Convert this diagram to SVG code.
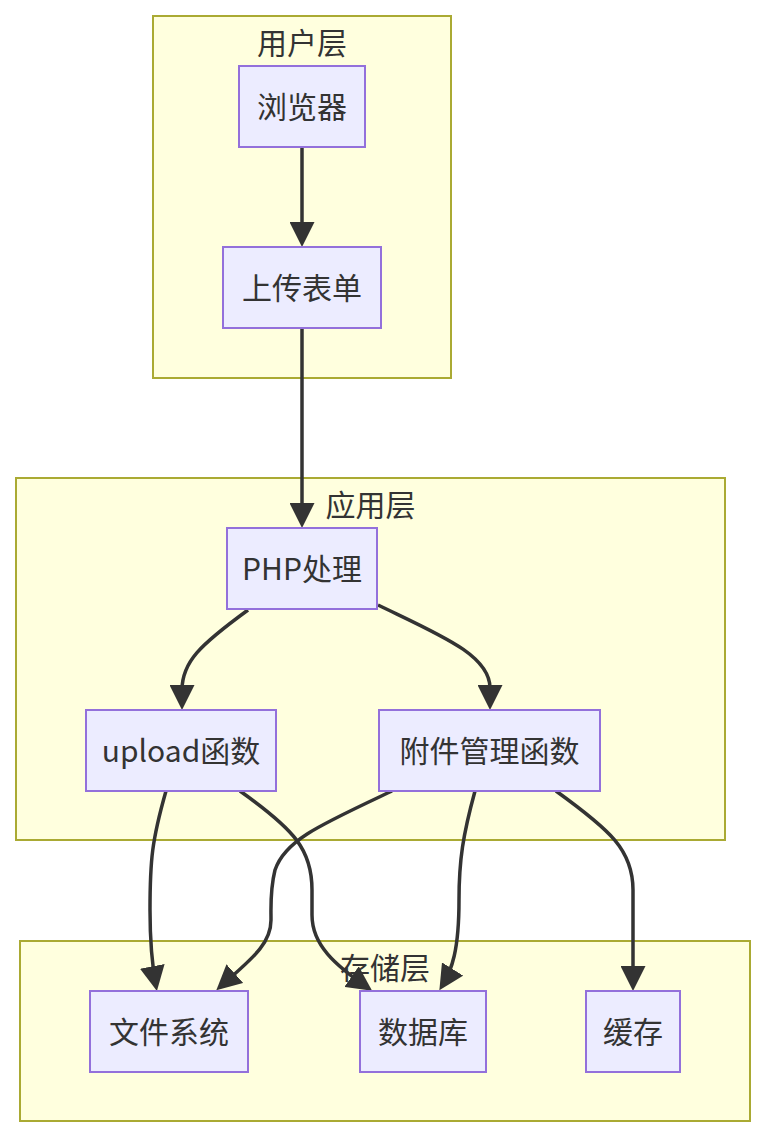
<svg xmlns="http://www.w3.org/2000/svg" width="766" height="1137" viewBox="0 0 766 1137">
<style>
.cluster rect{fill:#ffffde;stroke:#aaaa33;stroke-width:2}
.node rect{fill:#ececff;stroke:#9370db;stroke-width:2}
text{font-family:"Noto Sans CJK SC","Noto Sans",sans-serif;font-size:30px;fill:#333333;text-anchor:middle}
.edge{fill:none;stroke:#333333;stroke-width:3.5;marker-end:url(#arrow)}
</style>
<defs>
<marker id="arrow" viewBox="0 0 10 10" refX="8" refY="5" markerWidth="25" markerHeight="25" markerUnits="userSpaceOnUse" orient="auto">
<path d="M0,0 L10,5 L0,10 z" fill="#333333"/>
</marker>
</defs>
<g id="clusters">
<g id="cluster-user" class="cluster"><rect x="153" y="16" width="298" height="362"/><text x="302" y="54">用户层</text></g>
<g id="cluster-app" class="cluster"><rect x="16" y="478" width="709" height="362"/><text x="370.5" y="516">应用层</text></g>
<g id="cluster-storage" class="cluster"><rect x="20" y="941" width="730" height="180"/><text x="385" y="979">存储层</text></g>
</g>
<g id="edges">
<path class="edge" d="M302,147 L302,242"/>
<path class="edge" d="M302,328 L302,523"/>
<path class="edge" d="M248,610 C200,645 182,662 182,690 L182,705"/>
<path class="edge" d="M378,605 C440,635 490,655 490,688 L490,705"/>
<path class="edge" d="M166,791 C152,840 150,860 150,910 C150,950 153,970 156,986"/>
<path class="edge" d="M240,791 C295,830 312,850 312,890 L312,915 C312,945 335,965 368,988"/>
<path class="edge" d="M392,791 C320,825 285,840 275,870 C270,890 271,905 271,920 C271,945 250,960 220,987"/>
<path class="edge" d="M475,791 C463,835 459,860 459,900 C459,950 452,970 442,986"/>
<path class="edge" d="M556,791 C610,830 633,850 633,890 L633,986"/>
</g>
<g id="node-browser" class="node"><rect x="239" y="66" width="126" height="81"/><text x="302" y="118">浏览器</text></g>
<g id="node-form" class="node"><rect x="223" y="247" width="158" height="81"/><text x="302" y="299">上传表单</text></g>
<g id="node-php" class="node"><rect x="227" y="528" width="150" height="81"/><text x="302" y="580">PHP处理</text></g>
<g id="node-upload" class="node"><rect x="86" y="710" width="190" height="81"/><text x="181" y="762">upload函数</text></g>
<g id="node-attach" class="node"><rect x="379" y="710" width="221" height="81"/><text x="489.5" y="762">附件管理函数</text></g>
<g id="node-fs" class="node"><rect x="90" y="991" width="158" height="81"/><text x="169" y="1043">文件系统</text></g>
<g id="node-db" class="node"><rect x="360" y="991" width="126" height="81"/><text x="423" y="1043">数据库</text></g>
<g id="node-cache" class="node"><rect x="586" y="991" width="94" height="81"/><text x="633" y="1043">缓存</text></g>
</svg>
